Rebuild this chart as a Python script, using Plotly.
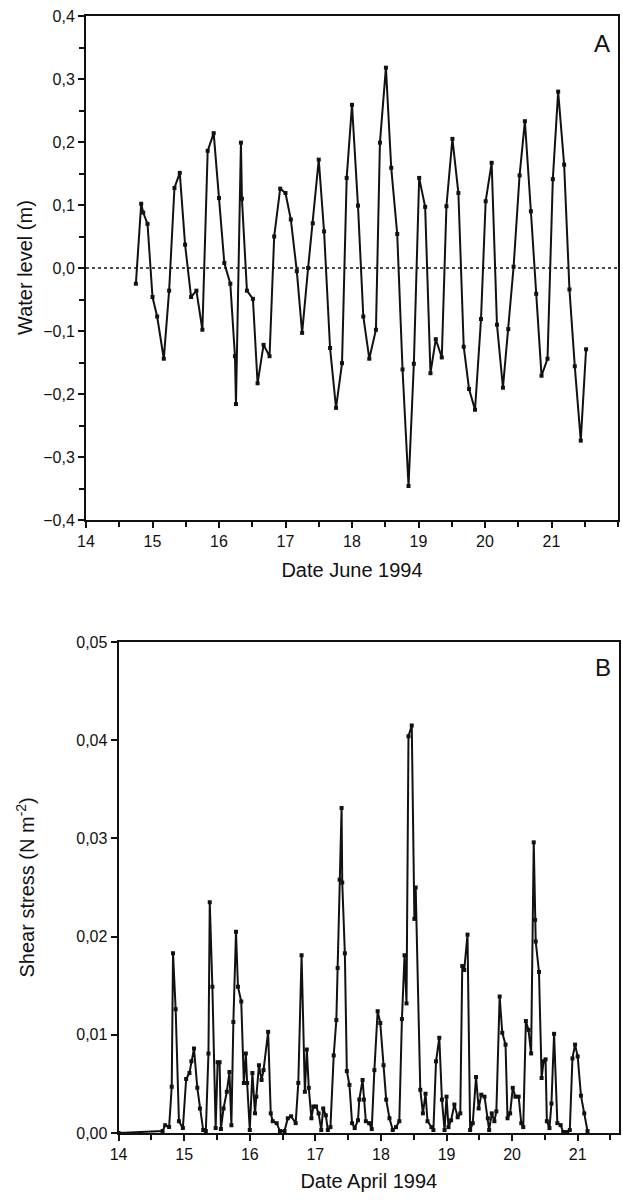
import plotly.graph_objects as go

# Panel A: water level, June 1994
day_a = [14.75, 14.83, 14.86, 14.925, 15.0, 15.07, 15.17, 15.25, 15.33, 15.41,
         15.49, 15.58, 15.66, 15.75, 15.83, 15.92, 16.0, 16.08, 16.17, 16.24,
         16.255, 16.33, 16.345, 16.42, 16.51, 16.58, 16.67, 16.76, 16.83, 16.92,
         17.0, 17.08, 17.17, 17.25, 17.34, 17.41, 17.5, 17.58, 17.67, 17.76,
         17.85, 17.92, 18.0, 18.09, 18.17, 18.26, 18.36, 18.42, 18.51, 18.59,
         18.68, 18.76, 18.85, 18.93, 19.01, 19.1, 19.18, 19.26, 19.35, 19.42,
         19.51, 19.6, 19.68, 19.76, 19.85, 19.94, 20.01, 20.1, 20.18, 20.27,
         20.35, 20.43, 20.52, 20.6, 20.69, 20.77, 20.85, 20.94, 21.02, 21.1,
         21.19, 21.27, 21.35, 21.44, 21.52]
level_a = [-0.025, 0.102, 0.088, 0.07, -0.046, -0.077, -0.144, -0.036, 0.127, 0.151,
           0.037, -0.046, -0.036, -0.098, 0.186, 0.214, 0.111, 0.008, -0.025, -0.14,
           -0.216, 0.199, 0.11, -0.036, -0.049, -0.183, -0.122, -0.14, 0.05, 0.126,
           0.119, 0.077, -0.005, -0.103, 0.0, 0.071, 0.172, 0.058, -0.127, -0.222,
           -0.151, 0.143, 0.259, 0.099, -0.077, -0.144, -0.098, 0.199, 0.318, 0.159,
           0.054, -0.161, -0.346, -0.152, 0.143, 0.097, -0.167, -0.113, -0.142, 0.098,
           0.205, 0.119, -0.125, -0.192, -0.225, -0.081, 0.106, 0.167, -0.09, -0.19,
           -0.097, 0.002, 0.147, 0.233, 0.09, -0.041, -0.171, -0.144, 0.141, 0.28,
           0.164, -0.034, -0.156, -0.274, -0.129]

# Panel B: shear stress, April 1994
day_b = [14.0, 14.67, 14.71, 14.77, 14.81, 14.83, 14.87, 14.92, 14.98, 15.03,
         15.08, 15.11, 15.15, 15.2, 15.24, 15.29, 15.33, 15.37, 15.39, 15.43,
         15.48, 15.51, 15.54, 15.56, 15.6, 15.65, 15.69, 15.72, 15.75, 15.79,
         15.82, 15.87, 15.91, 15.94, 15.96, 16.0, 16.04, 16.08, 16.1, 16.14,
         16.18, 16.21, 16.28, 16.32, 16.35, 16.41, 16.46, 16.53, 16.58, 16.63,
         16.7, 16.74, 16.79, 16.84, 16.87, 16.9, 16.94, 16.97, 17.01, 17.05,
         17.09, 17.12, 17.16, 17.19, 17.23, 17.28, 17.32, 17.34, 17.37, 17.4,
         17.41, 17.45, 17.48, 17.52, 17.56, 17.6, 17.65, 17.67, 17.72, 17.74,
         17.77, 17.82, 17.86, 17.9, 17.95, 17.99, 18.04, 18.08, 18.13, 18.18,
         18.23, 18.28, 18.32, 18.36, 18.39, 18.42, 18.47, 18.51, 18.53, 18.6,
         18.64, 18.68, 18.71, 18.77, 18.8, 18.84, 18.89, 18.93, 18.97, 19.0,
         19.03, 19.07, 19.12, 19.17, 19.21, 19.24, 19.27, 19.32, 19.36, 19.4,
         19.45, 19.49, 19.53, 19.58, 19.63, 19.65, 19.69, 19.73, 19.76, 19.81,
         19.85, 19.9, 19.93, 19.97, 20.01, 20.05, 20.1, 20.14, 20.17, 20.21,
         20.25, 20.29, 20.33, 20.35, 20.36, 20.41, 20.45, 20.48, 20.51, 20.53,
         20.57, 20.6, 20.64, 20.69, 20.74, 20.78, 20.84, 20.88, 20.92, 20.96,
         21.0, 21.05, 21.1, 21.15]
stress_b = [0.0, 0.0002, 0.0008, 0.0006, 0.0047, 0.0183, 0.0126, 0.0012, 0.0005, 0.0055,
            0.0061, 0.0073, 0.0086, 0.0046, 0.0025, 0.0003, 0.0002, 0.0081, 0.0235, 0.0149,
            0.0005, 0.0072, 0.0072, 0.0004, 0.0025, 0.0042, 0.0062, 0.0008, 0.0113, 0.0205,
            0.0149, 0.0134, 0.0051, 0.0081, 0.0051, 0.0003, 0.0061, 0.002, 0.0037, 0.0069,
            0.0054, 0.0064, 0.0103, 0.002, 0.0012, 0.001, 0.0002, 0.0002, 0.0015, 0.0017,
            0.001, 0.0051, 0.0181, 0.0042, 0.0085, 0.0046, 0.0015, 0.0027, 0.0027, 0.002,
            0.0003, 0.0025, 0.0018, 0.0003, 0.0006, 0.0079, 0.0115, 0.0168, 0.0258, 0.0331,
            0.0255, 0.0183, 0.0063, 0.0049, 0.001, 0.0005, 0.0013, 0.0034, 0.0054, 0.0034,
            0.0012, 0.001, 0.0004, 0.0064, 0.0124, 0.0112, 0.0069, 0.0034, 0.0015, 0.0003,
            0.0006, 0.0012, 0.0116, 0.0181, 0.0132, 0.0404, 0.0415, 0.0218, 0.025, 0.0044,
            0.002, 0.004, 0.0012, 0.0006, 0.0003, 0.0073, 0.0097, 0.0034, 0.0003, 0.0037,
            0.0006, 0.0013, 0.0029, 0.0016, 0.002, 0.017, 0.0166, 0.0202, 0.0003, 0.001,
            0.0057, 0.0025, 0.0039, 0.0037, 0.0015, 0.0003, 0.002, 0.0012, 0.0022, 0.0139,
            0.0102, 0.009, 0.0015, 0.002, 0.0046, 0.0037, 0.0037, 0.001, 0.0006, 0.0114,
            0.0105, 0.0081, 0.0296, 0.0217, 0.0195, 0.0164, 0.0056, 0.0073, 0.0075, 0.0012,
            0.0005, 0.003, 0.0101, 0.001, 0.0008, 0.0001, 0.0001, 0.0003, 0.0076, 0.009,
            0.0078, 0.0038, 0.002, 0.0002]

FONT = "Liberation Sans, Arial, sans-serif"
INK = "#111111"
W, H = 623, 1204

fig = go.Figure()
fig.add_trace(go.Scatter(x=day_a, y=level_a, mode="lines+markers", xaxis="x", yaxis="y",
                         line=dict(color=INK, width=2),
                         marker=dict(color=INK, size=4, symbol="square")))
fig.add_trace(go.Scatter(x=day_b, y=stress_b, mode="lines+markers", xaxis="x2", yaxis="y2",
                         line=dict(color=INK, width=2),
                         marker=dict(color=INK, size=4, symbol="square")))

axis_common = dict(showgrid=False, zeroline=False, showline=True, mirror=True,
                   linecolor=INK, linewidth=2, ticks="outside", ticklen=6,
                   tickwidth=1.5, tickcolor=INK, automargin=False,
                   tickfont=dict(family=FONT, size=16, color=INK))
minor_x = dict(dtick=0.5, ticks="outside", ticklen=5, tickcolor=INK)
title_font = dict(family=FONT, size=20, color=INK)

fig.update_layout(
    width=W, height=H,
    margin=dict(l=0, r=0, t=0, b=0),
    paper_bgcolor="white", plot_bgcolor="white",
    showlegend=False,
    separators=", ",
    font=dict(family=FONT, color=INK),
    xaxis=dict(axis_common, domain=[86 / W, 618 / W], anchor="y", range=[14, 22],
               tickvals=list(range(14, 22)), minor=minor_x,
               title=dict(text="Date June 1994", font=title_font, standoff=14)),
    yaxis=dict(axis_common, domain=[1 - 520 / H, 1 - 16 / H], anchor="x", range=[-0.4, 0.4],
               dtick=0.1, tickformat=".1f",
               minor=dict(dtick=0.05, ticks="outside", ticklen=5, tickcolor=INK)),
    xaxis2=dict(axis_common, domain=[118.6 / W, 619 / W], anchor="y2", range=[14, 21.63],
                tickvals=list(range(14, 22)), minor=minor_x,
                title=dict(text="Date April 1994", font=title_font, standoff=12)),
    yaxis2=dict(axis_common, domain=[1 - 1133 / H, 1 - 642 / H], anchor="x2", range=[0, 0.05],
                dtick=0.01, tickformat=".2f"),
)

# dotted reference line at zero water level
fig.add_shape(type="line", xref="x domain", yref="y", x0=0, x1=1, y0=0, y1=0,
              line=dict(color=INK, width=1.5, dash="dot"))

# y-axis titles, both at the same distance from the left edge
fig.add_annotation(text="Water level (m)", xref="paper", yref="y domain", x=25 / W, y=0.5,
                   xanchor="center", yanchor="middle",
                   textangle=-90, showarrow=False, font=title_font)
fig.add_annotation(text="Shear stress (N m<sup>-2</sup>)", xref="paper", yref="y2 domain",
                   x=25 / W, y=0.5, xanchor="center", yanchor="middle",
                   textangle=-90, showarrow=False, font=title_font)

# panel letters
fig.add_annotation(text="A", xref="paper", yref="paper", x=612 / W, y=1 - 28 / H,
                   showarrow=False, xanchor="right", yanchor="top",
                   font=dict(family=FONT, size=24, color=INK))
fig.add_annotation(text="B", xref="paper", yref="paper", x=613 / W, y=1 - 652 / H,
                   showarrow=False, xanchor="right", yanchor="top",
                   font=dict(family=FONT, size=24, color=INK))

# the page's default body margin would push the fixed-size figure past the window
fig.write_html("out.html", config={"displayModeBar": False},
               post_script="document.body.style.margin='0';document.body.style.overflow='hidden';")
